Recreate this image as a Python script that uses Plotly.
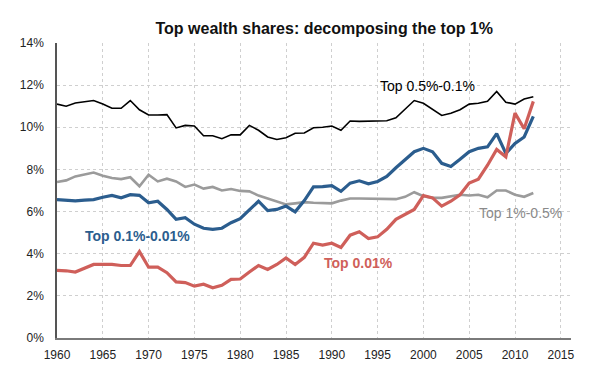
import plotly.graph_objects as go

years = list(range(1960, 2013))

top_05_01 = [11.10, 11.00, 11.15, 11.20, 11.27, 11.10, 10.90, 10.90, 11.27, 10.83,
             10.58, 10.58, 10.60, 9.97, 10.09, 10.06, 9.60, 9.60, 9.46, 9.64,
             9.64, 10.09, 9.86, 9.54, 9.42, 9.50, 9.72, 9.73, 9.98, 10.00,
             10.06, 9.86, 10.30, 10.28, 10.28, 10.31, 10.31, 10.45, 10.87, 11.27,
             11.14, 10.87, 10.56, 10.67, 10.83, 11.10, 11.14, 11.23, 11.70, 11.19,
             11.10, 11.34, 11.45]

top_1_05 = [7.40, 7.48, 7.67, 7.75, 7.85, 7.70, 7.59, 7.54, 7.63, 7.20,
            7.75, 7.43, 7.56, 7.43, 7.17, 7.28, 7.09, 7.17, 7.00, 7.07,
            6.98, 6.96, 6.76, 6.62, 6.48, 6.34, 6.39, 6.45, 6.42, 6.42,
            6.39, 6.52, 6.62, 6.62, 6.62, 6.62, 6.62, 6.59, 6.70, 6.92,
            6.73, 6.65, 6.65, 6.73, 6.80, 6.76, 6.80, 6.68, 7.00, 7.00,
            6.80, 6.70, 6.88]

top_01_001 = [6.57, 6.54, 6.51, 6.54, 6.57, 6.68, 6.77, 6.65, 6.80, 6.77,
              6.42, 6.49, 6.10, 5.63, 5.71, 5.40, 5.21, 5.16, 5.21, 5.47,
              5.66, 6.08, 6.49, 6.05, 6.10, 6.26, 5.99, 6.52, 7.17, 7.18,
              7.23, 6.96, 7.35, 7.46, 7.32, 7.43, 7.67, 8.08, 8.45, 8.84,
              9.00, 8.84, 8.29, 8.14, 8.48, 8.84, 9.00, 9.07, 9.70, 8.76,
              9.23, 9.54, 10.52]

top_001 = [3.21, 3.19, 3.13, 3.31, 3.49, 3.49, 3.49, 3.44, 3.44, 4.10,
           3.36, 3.36, 3.10, 2.66, 2.63, 2.46, 2.55, 2.38, 2.50, 2.78,
           2.80, 3.13, 3.44, 3.25, 3.49, 3.80, 3.49, 3.83, 4.50, 4.41,
           4.50, 4.30, 4.88, 5.04, 4.72, 4.80, 5.16, 5.63, 5.87, 6.10,
           6.76, 6.65, 6.26, 6.49, 6.80, 7.35, 7.54, 8.20, 8.95, 8.60,
           10.67, 9.93, 11.23]

x_ticks = [1960, 1965, 1970, 1975, 1980, 1985, 1990, 1995, 2000, 2005, 2010, 2015]
y_ticks = [0, 2, 4, 6, 8, 10, 12, 14]
y_tick_labels = ["0%", "2%", "4%", "6%", "8%", "10%", "12%", "14%"]

title_text = "Top wealth shares: decomposing the top 1%"
labels = ["Top 0.5%-0.1%", "Top 1%-0.5%", "Top 0.1%-0.01%", "Top 0.01%"]
label_x = [2000.5, 2010.65, 1968.84, 1992.9]
label_y = [11.97, 5.94, 4.85, 3.55]

colors = ["#000000", "#9b9b9b", "#2b5d8e", "#cf5f5a"]
text_colors = ["#000000", "#8a8a8a", "#2b5d8e", "#cf5f5a"]
widths = [1.6, 2.6, 3.2, 3.2]
bold = [False, False, True, True]

FONT = "Arial, Liberation Sans, Helvetica, sans-serif"

fig = go.Figure()
series = [top_05_01, top_1_05, top_01_001, top_001]
for s, c, w, n in zip(series, colors, widths, labels):
    fig.add_trace(go.Scatter(x=years, y=s, mode="lines", name=n,
                             line=dict(color=c, width=w), showlegend=False))

for t, xx, yy, c, b in zip(labels, label_x, label_y, text_colors, bold):
    fig.add_annotation(x=xx, y=yy, xref="x", yref="y",
                       text=("<b>%s</b>" % t) if b else t, showarrow=False,
                       font=dict(family=FONT, size=14, color=c),
                       xanchor="center", yanchor="middle")

fig.update_layout(
    width=590, height=366,
    margin=dict(l=49, r=27, t=35, b=33),
    paper_bgcolor="white", plot_bgcolor="white",
    font=dict(family=FONT, color="#222222"),
    title=dict(text="<b>%s</b>" % title_text, x=0.536, xanchor="center",
               y=1 - 20 / 366, yanchor="middle",
               font=dict(family=FONT, size=16, color="#111111")),
)

fig.update_xaxes(range=[1960, 1960 + 514 / 9.16], tickvals=x_ticks,
                 showgrid=True, gridcolor="#cfcfcf", griddash="dot", gridwidth=1,
                 showline=True, linecolor="#7a7a7a", linewidth=1.5,
                 ticks="", tickfont=dict(size=12, color="#222222"),
                 ticklabelstandoff=5, zeroline=False)
fig.update_yaxes(range=[0, 14], tickvals=y_ticks, ticktext=y_tick_labels,
                 showgrid=True, gridcolor="#cfcfcf", griddash="dot", gridwidth=1,
                 showline=True, linecolor="#555555", linewidth=1.5,
                 ticks="", tickfont=dict(size=12, color="#222222"),
                 ticklabelstandoff=9, zeroline=False)

fig.write_html("out.html")
